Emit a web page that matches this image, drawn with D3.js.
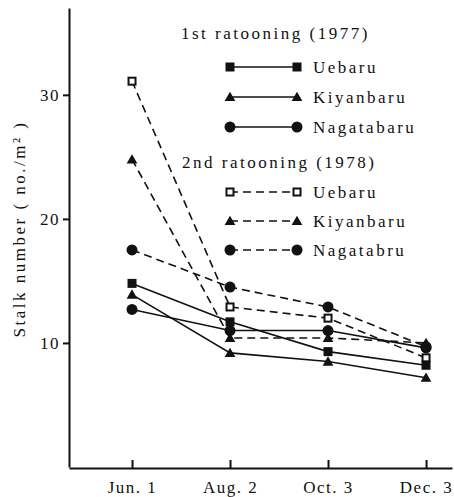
<!doctype html>
<html lang="en">
  <head>
    <meta charset="UTF-8">
    <title>Stalk number</title>
    <style>
      body { margin: 0; background: #fff; }
      text { font-family: "Liberation Serif", "DejaVu Serif", serif; fill: #111; }
      .axis path, .axis line { stroke: #111; stroke-width: 2px; }
      .axis text { font-size: 17px; letter-spacing: 1.5px; }
      .label { font-size: 17px; letter-spacing: 2.5px; }
      .series { fill: none; stroke: #111; stroke-width: 1.6px; }
    </style>
  </head>
  <body>
    <svg width="454" height="497"></svg>
    <script src="https://d3js.org/d3.v7.min.js"></script>
    <script>
      var dates = ["Jun. 1", "Aug. 2", "Oct. 3", "Dec. 3"];
      var uebaru77 = [14.8, 11.7, 9.3, 8.2];
      var kiyanbaru77 = [13.9, 9.2, 8.5, 7.2];
      var nagatabaru77 = [12.7, 11.0, 11.0, 9.6];
      var uebaru78 = [31.1, 12.9, 12.0, 8.8];
      var kiyanbaru78 = [24.8, 10.4, 10.4, 10.0];
      var nagatabaru78 = [17.5, 14.5, 12.9, 9.7];
      var yTicks = [10, 20, 30];

      var series = [
        {name: "Uebaru", values: uebaru77, marker: "square", dashed: false},
        {name: "Kiyanbaru", values: kiyanbaru77, marker: "triangle", dashed: false},
        {name: "Nagatabaru", values: nagatabaru77, marker: "circle", dashed: false},
        {name: "Uebaru", values: uebaru78, marker: "open", dashed: true},
        {name: "Kiyanbaru", values: kiyanbaru78, marker: "triangle", dashed: true},
        {name: "Nagatabru", values: nagatabaru78, marker: "circle", dashed: true}
      ];

      var svg = d3.select("svg");

      // x as index so the axis can run past the last date like the original
      var x = d3.scaleLinear().domain([-0.643, 3.265]).range([69, 452]);
      var y = d3.scaleLinear().domain([0, 37]).range([467, 8]);

      svg.append("g")
        .attr("class", "axis")
        .attr("transform", "translate(0,468)")
        .call(d3.axisBottom(x).tickValues([0, 1, 2, 3]).tickSize(-8).tickPadding(7)
          .tickSizeOuter(0).tickFormat(function (i) { return dates[i]; }))
        .selectAll("text").attr("dy", "1.05em");

      svg.append("g")
        .attr("class", "axis")
        .attr("transform", "translate(69,0)")
        .call(d3.axisLeft(y).tickValues(yTicks).tickSize(6).tickPadding(3).tickSizeOuter(0));

      svg.append("text")
        .attr("class", "label")
        .attr("transform", "translate(25,229) rotate(-90)")
        .attr("text-anchor", "middle")
        .text("Stalk number ( no./m\u00b2 )");

      function drawMarker(g, kind, cx, cy) {
        if (kind === "square") {
          g.append("rect").attr("x", cx - 4.5).attr("y", cy - 4.5).attr("width", 9).attr("height", 9).attr("fill", "#111");
        } else if (kind === "open") {
          g.append("rect").attr("x", cx - 3.5).attr("y", cy - 3.5).attr("width", 7).attr("height", 7)
            .attr("fill", "#fff").attr("stroke", "#111").attr("stroke-width", 2);
        } else if (kind === "triangle") {
          g.append("path").attr("d", d3.symbol(d3.symbolTriangle, 50)()).attr("transform", "translate(" + cx + "," + (cy + 1) + ")").attr("fill", "#111");
        } else {
          g.append("circle").attr("cx", cx).attr("cy", cy).attr("r", 5.5).attr("fill", "#111");
        }
      }

      var line = d3.line()
        .x(function (d, i) { return x(i); })
        .y(function (d) { return y(d); });

      series.forEach(function (s) {
        var g = svg.append("g");
        g.append("path")
          .attr("class", "series")
          .attr("d", line(s.values))
          .attr("stroke-dasharray", s.dashed ? "8,5" : null);
        s.values.forEach(function (v, i) { drawMarker(g, s.marker, x(i), y(v)); });
      });

      // legend
      var legend = svg.append("g");
      legend.append("text").attr("class", "label").attr("x", 181).attr("y", 39).text("1st ratooning (1977)");
      legend.append("text").attr("class", "label").attr("x", 182).attr("y", 168).text("2nd ratooning (1978)");
      var rowY = [67, 97, 127, 192, 221, 250];
      series.forEach(function (s, k) {
        var ly = rowY[k];
        legend.append("line")
          .attr("x1", 230).attr("x2", 297).attr("y1", ly).attr("y2", ly)
          .attr("class", "series")
          .attr("stroke-dasharray", s.dashed ? "8,5" : null);
        drawMarker(legend, s.marker, 230, ly);
        drawMarker(legend, s.marker, 297, ly);
        legend.append("text").attr("class", "label").attr("x", 313).attr("y", ly + 6).text(s.name);
      });
    </script>
  </body>
</html>
